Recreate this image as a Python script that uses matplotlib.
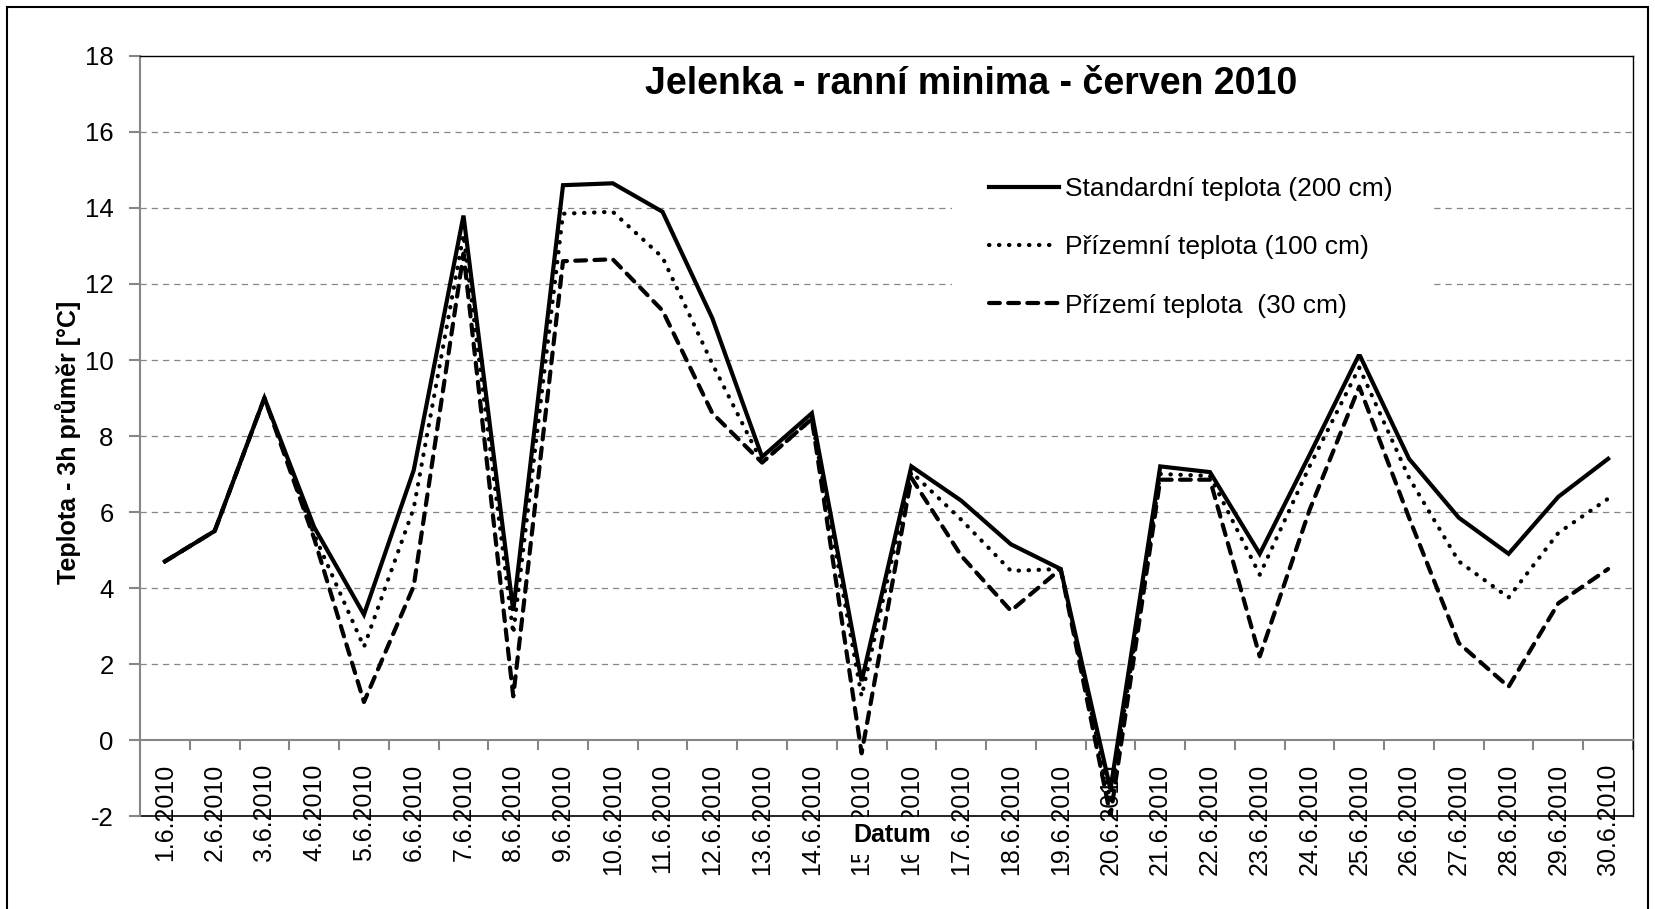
import matplotlib
matplotlib.use('Agg')
import matplotlib.pyplot as plt
import numpy as np
from matplotlib.patches import Rectangle
from matplotlib.ticker import FixedLocator

plt.rcParams['font.family'] = ['Liberation Sans', 'DejaVu Sans']
plt.rcParams['axes.unicode_minus'] = False

################################################################################
# Data
dates = ['%d.6.2010' % d for d in range(1, 31)]

std_200 = [4.7, 5.5, 9.0, 5.6, 3.3, 7.1, 13.8, 3.4, 14.6, 14.65,
           13.9, 11.1, 7.45, 8.6, 1.55, 7.2, 6.3, 5.15, 4.5, -1.3,
           7.2, 7.05, 4.9, 7.5, 10.15, 7.4, 5.85, 4.9, 6.4, 7.4]
ground_100 = [4.7, 5.5, 9.0, 5.4, 2.45, 6.1, 13.3, 2.8, 13.85, 13.9,
              12.7, 9.9, 7.3, 8.45, 1.15, 7.05, 5.8, 4.45, 4.5, -1.6,
              7.0, 6.95, 4.35, 7.2, 9.8, 6.9, 4.7, 3.75, 5.45, 6.35]
ground_30 = [4.7, 5.5, 9.0, 5.3, 1.0, 4.05, 12.8, 1.15, 12.6, 12.65,
             11.3, 8.6, 7.3, 8.45, -0.35, 6.9, 4.85, 3.4, 4.5, -2.0,
             6.85, 6.85, 2.2, 6.05, 9.3, 5.85, 2.55, 1.4, 3.6, 4.5]

labels = ['Standardní teplota (200 cm)',
          'Přízemní teplota (100 cm)',
          'Přízemí teplota  (30 cm)']

################################################################################
# Figure
fig = plt.figure(figsize=(16.55, 9.09), dpi=100)
ax = fig.add_axes([0.0846, 0.1023, 0.9867 - 0.0846, 0.9384 - 0.1023])

x = np.arange(len(dates))
grey = '#868686'

ax.plot(x, std_200, color='k', lw=3, ls='-', solid_joinstyle='miter',
        zorder=3, label=labels[0])
ax.plot(x, ground_100, color='k', lw=3, ls=(0, (0.1, 2.3)),
        dash_capstyle='round', zorder=3, label=labels[1])
ax.plot(x, ground_30, color='k', lw=3, ls=(0, (2.6, 2.0)),
        dash_capstyle='round', zorder=3, label=labels[2])

ax.set_xlim(-0.5, len(dates) - 0.5)
ax.set_ylim(-2, 18)
ax.set_yticks(np.arange(-2, 19, 2))
ax.tick_params(axis='y', labelsize=18.5, length=8, width=1.5, color=grey,
               direction='out', pad=11)

# category axis crosses at 0
ax.spines['bottom'].set_position(('data', 0))
ax.spines['bottom'].set_color(grey)
ax.spines['bottom'].set_linewidth(1.5)
ax.spines['left'].set_color(grey)
ax.spines['left'].set_linewidth(1.5)
ax.spines['top'].set_color('black')
ax.spines['top'].set_linewidth(1)
ax.spines['right'].set_color('black')
ax.spines['right'].set_linewidth(1)
ax.axhline(-2, color='black', lw=1.2, clip_on=False, zorder=1)

ax.set_xticks(x)
ax.set_xticklabels(dates, rotation=90, fontsize=18, va='top')
ax.xaxis.set_minor_locator(FixedLocator(np.arange(-0.5, len(dates), 1)))
ax.tick_params(axis='x', which='major', length=0, pad=17)
ax.tick_params(axis='x', which='minor', length=7, width=1.5, color=grey,
               direction='out')

# gridlines
for v in range(2, 18, 2):
    ax.axhline(v, color=grey, lw=0.9, ls=(0, (5, 4)), zorder=0.5)

leg = ax.legend(loc='upper left', bbox_to_anchor=(0.575, 0.846),
                bbox_transform=fig.transFigure, fontsize=19, frameon=True,
                fancybox=False, edgecolor='none', facecolor='white',
                framealpha=1, borderpad=1.4, borderaxespad=0,
                handlelength=2.65, handletextpad=0.25, labelspacing=1.3)

fig.text(0.587, 0.9076, 'Jelenka - ranní minima - červen 2010',
         fontsize=27, fontweight='bold', ha='center', va='center')
fig.text(0.041, 0.5134, 'Teplota - 3h průměr [°C]', fontsize=18,
         fontweight='bold', rotation=90, ha='center', va='center')

# white box behind the axis title (it hides parts of two date labels)
fig.add_artist(Rectangle((842 / 1655, 1 - 855 / 909), 100 / 1655, 38 / 909,
                         transform=fig.transFigure, facecolor='white',
                         edgecolor='none', zorder=2))
fig.text(0.539, 0.0814, 'Datum', fontsize=18, fontweight='bold',
         ha='center', va='center', zorder=3)

# outer chart frame
fig.add_artist(Rectangle((7 / 1655, -0.01), 1641 / 1655, 1 - 7 / 909 + 0.01,
                         transform=fig.transFigure, fill=False,
                         edgecolor='black', lw=1.5, zorder=4))

plt.savefig('out.png', dpi=100)
